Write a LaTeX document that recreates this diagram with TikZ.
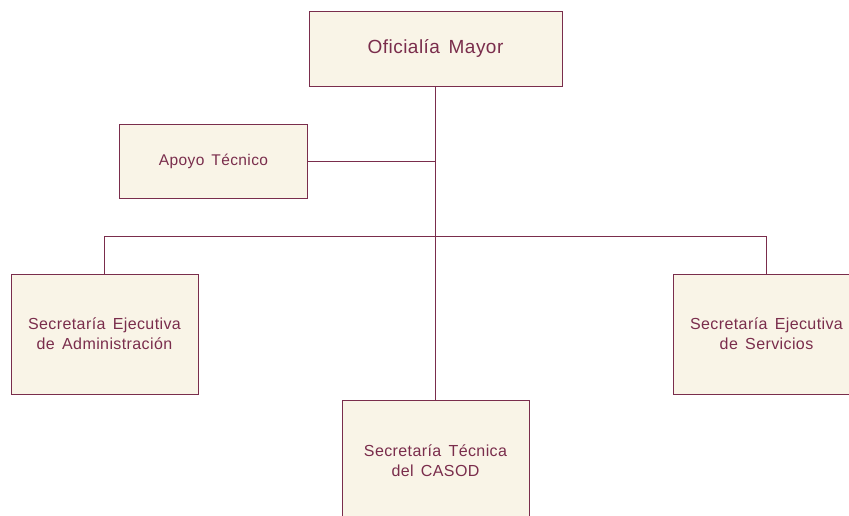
\documentclass[tikz,border=0pt]{standalone}
\usepackage{fontspec}
\setmainfont[LetterSpace=2.5,WordSpace=1.5]{Liberation Sans}
\definecolor{maroon}{HTML}{7A2D4C}
\definecolor{cream}{HTML}{F9F4E7}
\begin{document}
\begin{tikzpicture}[x=1pt,y=-1pt,
  box/.style={draw=maroon,fill=cream,line width=1pt,text=maroon,align=center,inner sep=0pt,font=\fontsize{16}{20}\selectfont},
  conn/.style={draw=maroon,line width=1pt}]
\useasboundingbox (0,0) rectangle (849,515);
\begin{scope}
\clip (0,0) rectangle (849,515);
\node[box,minimum width=253pt,minimum height=75pt,font=\fontsize{19}{23}\selectfont] (om) at (435.5,48.5) {Oficialía Mayor};
\node[box,minimum width=188pt,minimum height=74pt,font=\fontsize{15.5}{20}\selectfont] (at) at (213.5,161) {Apoyo Técnico};
\node[box,minimum width=187pt,minimum height=120pt] (sa) at (104.5,334) {Secretaría Ejecutiva\\de Administración};
\node[box,minimum width=187pt,minimum height=120pt] (ss) at (766.5,334) {Secretaría Ejecutiva\\de Servicios};
\node[box,minimum width=187pt,minimum height=150pt,anchor=north] (st) at (435.5,400) {\raisebox{41pt}{\begin{tabular}{@{}c@{}}Secretaría Técnica\\del CASOD\end{tabular}}};
\coordinate (bus) at (435.5,236.5);
\draw[conn] (om.south) -- (st.north);
\draw[conn] (at.east) -- (at.east -| om.south);
\draw[conn] (sa.north) |- (bus) -| (ss.north);
\end{scope}
\end{tikzpicture}
\end{document}
